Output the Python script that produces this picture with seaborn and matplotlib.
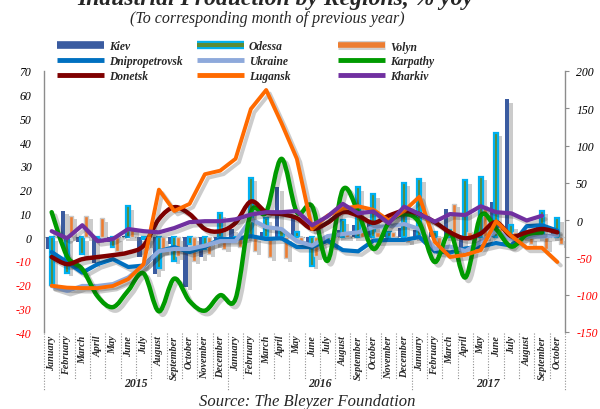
import numpy as np
import pandas as pd
import matplotlib
matplotlib.use("Agg")
import matplotlib.pyplot as plt
import seaborn as sns
from matplotlib.path import Path
from matplotlib.patches import PathPatch
from matplotlib.lines import Line2D
import matplotlib.patheffects as pe
import matplotlib.transforms as mtransforms

# ---------------- data ----------------
month_names = ["January", "February", "March", "April", "May", "June", "July",
               "August", "September", "October", "November", "December"]
months = month_names + month_names + month_names[:10]
years = ["2015", "2016", "2017"]
year_counts = [12, 12, 10]

kiev = [-5, 11, -2, -11, -2, 0.5, -8.5, -15.5, -3, -21, -8.5, -3,
        3.4, 1, 2, 21, 9, -3, -2, 3, 5, 6, 2, 4,
        3, 2, 12, -6, 4, 15, 58, 3, 5, 2]
odessa = [-20, -15, -7, -1, -4, 13, -1, -13, -10, -3, -5, 10,
          -1, 25, 8, 3, 2, -12, -2, 7, 21, 18, 2, 23,
          24.5, 2, 3, 24, 25.5, 44, 5, 2, 11, 8]
volyn = [0, 9, 9, 8, -6, 4, -3, -6, -8, -10, -7, -5,
         -4, -6, -8.5, -9, -2, -8, -4, 2, 3, 2, 2, -2,
         1, -3, 14, 2, 13, 4, 2, -3, -5, -3]

dnipropetrovsk = [-6.3, -10.5, -15, -11.4, -9.3, -12.6, -12, -6, -4.2, -6.3, -4.2, -0.8,
                  -0.8, 0.4, -0.8, -0.5, -4.2, -4.2, -1.5, -5.5, -6, -1.5, -1.2, -1.2,
                  0, -6, -6.5, -4.8, -4, -2.5, -3.6, 4.6, 5, 2.7]
ukraine = [-20.6, -22.7, -20.6, -20.6, -19.8, -17, -12, -5.9, -5, -5, -3.6, -1.7,
           -1.7, 7.6, 4.2, 3.4, -1.7, -3.6, 0.4, 1.3, 2, 4.2, 4.6, 5.5,
           3.4, -5, -4, -5.9, -2, 2.5, -1, 0.2, 0.2, 0.8]
karpathy = [10.5, -8, -13.5, -25, -29.5, -22.5, -15.3, -31.3, -17.5, -27, -31, -24.5,
            -26, 10.5, 10.5, 33, 10.5, 13, -10, 20, 10.5, -5, 6, 9.7,
            6, -10.5, 2, -17, 9, 3.4, -4, 1, 2, np.nan]
donetsk = [-8.4, -11.4, -9.3, -8.4, -7.6, -6.5, -3.6, 7.6, 12.6, 9.7, 3.4, 2.5,
           6, 15, 10.5, 9.7, 8, 3.5, 6, 10.5, 9, 6, 9, 11,
           9.7, 6.3, 2, -0.5, 1.5, 6.3, 0.4, 2, 3.4, 2]
lugansk = [-20.5, -21.3, -21.5, -21.5, -20.6, -17.7, -11.4, 20, 11, 14, 26.5, 28,
           33, 54, 62, 48, 33, 3.4, 9, 12, 13, 11.5, 7, 11,
           17, -2, -8.4, -7.5, -5.5, 6.7, 0.5, -4.5, -4.5, -10.5]
kharkiv = [2.5, -0.5, 5, -1.7, -0.8, 3.4, 2.5, 2, 3.8, 6.3, 6.7, 6.7,
           7.5, 9.5, 10.5, 10.5, 11, 5, 8.7, 14, 10, 10.8, 5.8, 12.8,
           9.7, 6.5, 9.7, 9.3, 13, 10.5, 10, 7, 9, np.nan]

left_ticks = list(range(-40, 71, 10))
right_ticks = list(range(-150, 201, 50))

# ---------------- style ----------------
C_KIEV = "#3A5BA0"
C_ODESSA = "#5B8C35"
C_ODESSA_EDGE = "#00B0F0"
C_VOLYN = "#ED7D31"
C_DNIP = "#0070C0"
C_UKR = "#8EA9DB"
C_KARP = "#009A00"
C_DON = "#7F0000"
C_LUG = "#FF6A00"
C_KHAR = "#7030A0"

sns.set_theme(style="white")
plt.rcParams["font.family"] = ["Liberation Serif", "DejaVu Serif"]

W, H = 600, 410
fig = plt.figure(figsize=(6.0, 4.1), dpi=100)
x0, x1, y0, y1 = 44, 565, 72, 333
ax = fig.add_axes([x0 / W, 1 - y1 / H, (x1 - x0) / W, (y1 - y0) / H])

n = len(months)
pos = np.arange(n)

# bars
bar_df = pd.DataFrame({
    "pos": np.concatenate([pos, pos, pos]),
    "value": kiev + odessa + volyn,
    "region": ["Kiev"] * n + ["Odessa"] * n + ["Volyn"] * n,
})
sns.barplot(data=bar_df, x="pos", y="value", hue="region",
            hue_order=["Kiev", "Odessa", "Volyn"],
            palette={"Kiev": C_KIEV, "Odessa": C_ODESSA, "Volyn": C_VOLYN},
            width=0.8, legend=False, ax=ax, saturation=1, zorder=2)

bar_shadow = [pe.SimplePatchShadow(offset=(3, -2.5), shadow_rgbFace="#777777", alpha=0.38),
              pe.Normal()]
for name, cont in zip(["Kiev", "Odessa", "Volyn"], ax.containers):
    for p in cont.patches:
        if name == "Odessa":
            p.set_edgecolor(C_ODESSA_EDGE)
            p.set_linewidth(1.6)
        elif name == "Volyn":
            p.set_edgecolor("#C8C8C8")
            p.set_linewidth(1.0)
        else:
            p.set_linewidth(0)
        p.set_path_effects(bar_shadow)

ax.axhline(0, color="#A0A0A0", lw=0.9, ls=(0, (1, 1.5)), zorder=1.5)

line_shadow = [pe.SimpleLineShadow(offset=(2.5, -2.5), shadow_color="k", alpha=0.22),
               pe.Normal()]


def straight(vals, color, lw=3.0, z=3):
    s = pd.Series(vals, dtype=float)
    m = s.notna().values
    sns.lineplot(x=pos[m], y=s.values[m], ax=ax, color=color, lw=lw,
                 path_effects=line_shadow, zorder=z, solid_joinstyle="round",
                 solid_capstyle="round")


def smooth(vals, color, lw=3.2, z=3):
    s = pd.Series(vals, dtype=float)
    m = s.notna().values
    xs = pos[m].astype(float)
    ys = s.values[m]
    pts = np.column_stack([xs, ys])
    verts = [pts[0]]
    codes = [Path.MOVETO]
    for i in range(len(pts) - 1):
        p0 = pts[i - 1] if i > 0 else pts[i]
        p1 = pts[i]
        p2 = pts[i + 1]
        p3 = pts[i + 2] if i + 2 < len(pts) else pts[i + 1]
        c1 = p1 + (p2 - p0) / 6.0
        c2 = p2 - (p3 - p1) / 6.0
        verts += [c1, c2, p2]
        codes += [Path.CURVE4] * 3
    patch = PathPatch(Path(verts, codes), fill=False, edgecolor=color, lw=lw,
                      zorder=z, capstyle="round", joinstyle="round")
    patch.set_path_effects(line_shadow)
    ax.add_patch(patch)


straight(dnipropetrovsk, C_DNIP)
straight(ukraine, C_UKR)
smooth(karpathy, C_KARP)
smooth(donetsk, C_DON)
straight(lugansk, C_LUG, lw=2.8)
straight(kharkiv, C_KHAR)

# axes
ax.set_xlim(-0.5, n - 0.5)
ax.set_ylim(-40, 70)
ax.set_yticks(left_ticks)
ax.set_yticklabels([str(t) for t in left_ticks])
for t, lab in zip(left_ticks, ax.get_yticklabels()):
    lab.set_color("#FF0000" if t < 0 else "black")
    lab.set_fontstyle("italic")
    lab.set_fontsize(8.5)
ax.tick_params(axis="y", length=0, pad=9)
ax.set_xticks(pos)
ax.set_xticklabels(months, rotation=90, fontsize=7.3, fontweight="bold",
                   fontstyle="italic", va="top", ha="center")
ax.tick_params(axis="x", length=0, pad=2)
ax.set_xlabel("")
ax.set_ylabel("")
for sp in ["top", "right", "bottom"]:
    ax.spines[sp].set_visible(False)
ax.spines["left"].set_color("#8C8C8C")
ax.spines["left"].set_linewidth(1.0)

ax2 = ax.twinx()
ax2.set_ylim(-150, 200)
ax2.set_yticks(right_ticks)
ax2.set_yticklabels([str(t) for t in right_ticks])
for t, lab in zip(right_ticks, ax2.get_yticklabels()):
    lab.set_color("#FF0000" if t < 0 else "black")
    lab.set_fontstyle("italic")
    lab.set_fontsize(8.5)
ax2.tick_params(axis="y", length=3, width=0.8, color="#8C8C8C", pad=5, direction="out")
for sp in ["top", "left", "bottom"]:
    ax2.spines[sp].set_visible(False)
ax2.spines["right"].set_color("#8C8C8C")
ax2.spines["right"].set_linewidth(1.0)
ax2.grid(False)
ax.grid(False)

# category separators and year labels
trans = mtransforms.blended_transform_factory(ax.transData, ax.transAxes)
ph = y1 - y0
short_y = -(380 - y1) / ph
long_y = -(392 - y1) / ph
start = 0
bounds = [-0.5]
for c in year_counts:
    start += c
    bounds.append(start - 0.5)
for b in np.arange(-0.5, n, 1.0):
    is_year = any(abs(b - yb) < 1e-6 for yb in bounds)
    ax.plot([b, b], [-0.005, long_y if is_year else short_y], transform=trans,
            color="#909090", lw=0.8, ls=(0, (1, 1.5)), clip_on=False)
for yr, a, b in zip(years, bounds[:-1], bounds[1:]):
    ax.text((a + b) / 2, -(384 - y1) / ph, yr, transform=trans, ha="center", va="center",
            fontsize=8.5, fontweight="bold", fontstyle="italic")

# titles (the reference shows the main title clipped at the top edge)
fig.text(275 / W, 1 - 5 / H, "Industrial Production by Regions, % yoy", ha="center",
         va="baseline", fontsize=17, fontweight="bold", fontstyle="italic")
fig.text(267 / W, 1 - 19 / H, "(To corresponding month of previous year)", ha="center",
         va="center", fontsize=11.5, fontstyle="italic")
fig.text(307 / W, 1 - 402 / H, "Source: The Bleyzer Foundation", ha="center",
         va="center", fontsize=12, fontstyle="italic")

# legend (three columns)
def lh(color, lw=3.5, edge=None, elw=None):
    l = Line2D([], [], color=color, lw=lw, solid_capstyle="butt")
    if edge is not None:
        l.set_path_effects([pe.Stroke(linewidth=elw, foreground=edge), pe.Normal()])
    return l

cols = [
    ([lh(C_KIEV, 5.5), lh(C_DNIP, 3.5), lh(C_DON, 3.5)], ["Kiev", "Dnipropetrovsk", "Donetsk"], 57),
    ([lh(C_ODESSA, 3, C_ODESSA_EDGE, 6), lh(C_UKR, 3.5), lh(C_LUG, 3.5)], ["Odessa", "Ukraine", "Lugansk"], 197),
    ([lh(C_VOLYN, 4, "#D0D0D0", 6.5), lh(C_KARP, 3.5), lh(C_KHAR, 3.5)], ["Volyn", "Karpathy", "Kharkiv"], 338),
]
for handles, labels, xp in cols:
    fig.legend(handles, labels, loc="upper left", bbox_to_anchor=(xp / W, 1 - 41.5 / H),
               frameon=False, borderpad=0, borderaxespad=0, handlelength=4.1,
               handletextpad=0.4, labelspacing=0.25,
               prop={"size": 8.3, "weight": "bold", "style": "italic"})

fig.savefig("out.png", dpi=100, facecolor="white")
